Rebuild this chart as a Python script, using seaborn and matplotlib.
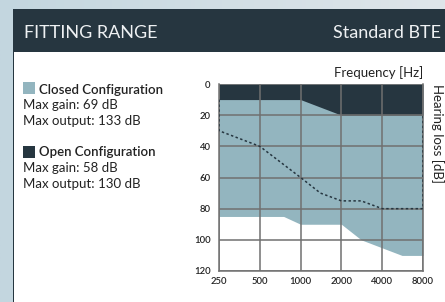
import numpy as np
import pandas as pd
import matplotlib
matplotlib.use("Agg")
import matplotlib.pyplot as plt
import seaborn as sns
from matplotlib.patches import Rectangle

# data
freq_ticks = [250, 500, 1000, 2000, 4000, 8000]
db_ticks = [0, 20, 40, 60, 80, 100, 120]

closed_freq = [250, 750, 1000, 2000, 2800, 5600, 8000]
closed_loss = [85, 85, 90, 90, 100, 110, 110]

open_freq = [250, 1000, 2000, 8000]
open_loss = [10, 10, 20, 20]

dotted_freq = [250, 250, 500, 1000, 1400, 2000, 2800, 4000, 8000, 8000]
dotted_loss = [10, 30, 40, 60, 70, 75, 75, 80, 80, 20]

legend_lines = [
    ("Closed Configuration", "Max gain: 69 dB", "Max output: 133 dB"),
    ("Open Configuration", "Max gain: 58 dB", "Max output: 130 dB"),
]

DARK = "#263640"
LIGHT = "#93b5bf"
GRID = "#707070"

sns.set_theme(style="white")
plt.rcParams["font.family"] = ["Lato", "DejaVu Sans"]

W, H = 445, 302
fig = plt.figure(figsize=(W / 100, H / 100), dpi=100)

# background gradient
bg = fig.add_axes([0, 0, 1, 1], zorder=-10)
grad = np.linspace(0, 1, 256)[None, :]
cmap = matplotlib.colors.LinearSegmentedColormap.from_list("bg", ["#c3d6df", "#dfe6ea"])
bg.imshow(grad, aspect="auto", cmap=cmap, extent=[0, 1, 0, 1])
bg.set_xlim(0, 1)
bg.set_ylim(0, 1)
bg.axis("off")

def fx(px):
    return px / W

def fy(py):
    return 1 - py / H

# panel + header
fig.patches.append(Rectangle((fx(13), 0), 1, fy(52), transform=fig.transFigure,
                             facecolor="white", edgecolor="none", zorder=-5))
fig.patches.append(Rectangle((fx(13), fy(52)), 1, fy(9) - fy(52), transform=fig.transFigure,
                             facecolor=DARK, edgecolor="none", zorder=-4))
fig.patches.append(Rectangle((fx(12.5), 0), fx(1.2), fy(9), transform=fig.transFigure,
                             facecolor=DARK, edgecolor="none", zorder=-4))

fig.text(fx(24), fy(38.5), "FITTING RANGE", color="#eef1f3", fontsize=13, va="baseline")
fig.text(fx(333), fy(38.5), "Standard BTE", color="#eef1f3", fontsize=13, va="baseline")

# legend block
bases = [(94, 109, 125, 82), (156, 172, 188, 146)]
for (title, gain, output), (b1, b2, b3, sq), col in zip(legend_lines, bases, [LIGHT, DARK]):
    fig.patches.append(Rectangle((fx(23), fy(sq + 12)), fx(12), 12 / H, transform=fig.transFigure,
                                 facecolor=col, edgecolor="none"))
    fig.text(fx(39), fy(b1), title, fontsize=9.5, color="#222222", va="baseline", fontweight="semibold")
    fig.text(fx(23), fy(b2), gain, fontsize=9.5, color="#222222", va="baseline")
    fig.text(fx(23), fy(b3), output, fontsize=9.5, color="#222222", va="baseline")

# chart
ax = fig.add_axes([fx(219), fy(271), fx(423) - fx(219), fy(84) - fy(271)])
ax.set_facecolor("white")
ax.fill_between(closed_freq, 0, closed_loss, color=LIGHT, linewidth=0, zorder=1)
ax.fill_between(open_freq, 0, open_loss, color=DARK, linewidth=0, zorder=1.5)

df = pd.DataFrame({"freq": dotted_freq, "loss": dotted_loss})
sns.lineplot(data=df, x="freq", y="loss", sort=False, estimator=None, ax=ax,
             color=DARK, linewidth=1.1, linestyle=(0, (1.6, 1.6)), zorder=4)

ax.set_xscale("log", base=2)
ax.set_xlim(250, 8000)
ax.set_ylim(120, 0)
ax.set_xticks(freq_ticks)
ax.set_xticklabels([str(f) for f in freq_ticks])
ax.set_yticks(db_ticks)
ax.minorticks_off()
ax.set_axisbelow(False)
ax.grid(True, color=GRID, linewidth=1.1, zorder=3)
ax.set_xlabel("")
ax.set_ylabel("")
for side in ["left", "bottom", "right"]:
    ax.spines[side].set_color(GRID)
    ax.spines[side].set_linewidth(1.1)
ax.spines["top"].set_visible(False)
ax.tick_params(axis="both", length=0, labelsize=6.8, labelcolor="#222222")
ax.tick_params(axis="y", pad=6)
ax.tick_params(axis="x", pad=4)
for lab in ax.get_xticklabels() + ax.get_yticklabels():
    lab.set_fontweight("semibold")

ax.text(1.0, 1 + 7 / 187, "Frequency [Hz]", transform=ax.transAxes, ha="right",
        va="baseline", fontsize=9.5, color="#222222")
ax.text(1 + 14 / 204, 1.0, "Hearing loss [dB]", transform=ax.transAxes, rotation=-90,
        ha="center", va="top", fontsize=9.5, color="#222222")

fig.savefig("out.png", dpi=100)
